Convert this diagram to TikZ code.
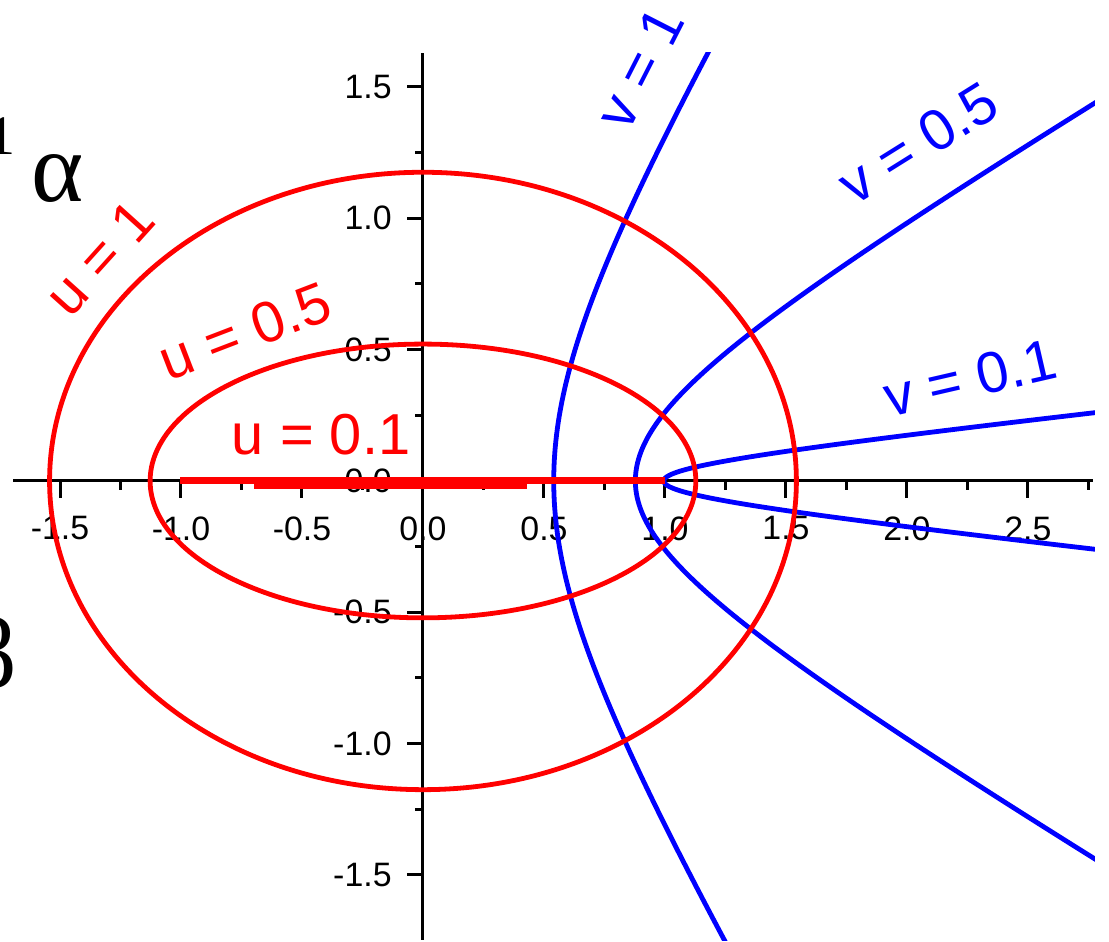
\documentclass[tikz,border=0pt]{standalone}
\usepackage{fontspec}
\setmainfont{Liberation Sans}
\newfontfamily\greekfont{Liberation Serif}
\usetikzlibrary{positioning}
\definecolor{curvered}{RGB}{255,0,0}
\definecolor{curveblue}{RGB}{0,0,255}

\begin{document}
\begin{tikzpicture}[
  x=121bp,y=131.35bp,
  axis/.style={line width=1.5bp,draw=black},
  tickmark/.style={line width=1.5bp,draw=black},
  ticklabel/.style={font=\fontsize{17}{17}\selectfont,inner sep=0pt},
  ucurve/.style={line width=2.4bp,draw=curvered},
  vcurve/.style={line width=2.4bp,draw=curveblue,samples=160,domain=-2.2:2.2,variable=\s},
  ulabel/.style={font=\fontsize{29}{29}\selectfont,text=curvered,inner sep=0pt},
  vlabel/.style={font=\fontsize{29}{29}\selectfont,text=curveblue,inner sep=0pt},
  greek/.style={font=\greekfont\fontsize{50}{50}\selectfont,inner sep=0pt}
]
\useasboundingbox (-1.748,-1.755) rectangle (2.835,1.831);

% -------------------------------------------------------------------------
% Axes, ticks and tick labels
% -------------------------------------------------------------------------
\coordinate (xmin) at (-1.694,0);
\coordinate (xmax) at (2.769,0);
\coordinate (ymin) at (0,-1.747);
\coordinate (ymax) at (0,1.629);
\draw[axis] (xmin) -- (xmax);
\draw[axis] (ymin) -- (ymax);

\foreach \v in {-1.5,-1,-0.5,0.5,1,1.5,2,2.5}
  {\draw[tickmark] (\v,0) -- ++(0,-8.5bp);}
\foreach \v in {-1.25,-0.75,-0.25,0.25,0.75,1.25,1.75,2.25,2.75}
  {\draw[tickmark] (\v,0) -- ++(0,-4.5bp);}
\foreach \v in {-1.5,-1,-0.5,0.5,1,1.5}
  {\draw[tickmark] (0,\v) -- ++(-8bp,0);}
\foreach \v in {-1.25,-0.75,-0.25,0.25,0.75,1.25}
  {\draw[tickmark] (0,\v) -- ++(-4bp,0);}

\foreach \v/\t [count=\k] in {-1.5/-1.5,-1/-1.0,-0.5/-0.5,0/0.0,0.5/0.5,1/1.0,1.5/1.5,2/2.0,2.5/2.5}
  {\node[ticklabel,anchor=north,yshift=-17.5bp] (xlab\k) at (\v,0) {\t};}
\foreach \v/\t [count=\k] in {-1.5/-1.5,-1/-1.0,-0.5/-0.5,0/0.0,0.5/0.5,1/1.0,1.5/1.5}
  {\node[ticklabel,anchor=east,xshift=-15.5bp] (ylab\k) at (0,\v) {\t};}

% -------------------------------------------------------------------------
% Coordinate curves
% -------------------------------------------------------------------------
\begin{scope}
\clip (-1.7,-1.75) rectangle (2.777,1.633);
\foreach \c/\sn in {0.5403/0.8415,0.8776/0.4794,0.9950/0.0998}
  {\draw[vcurve] plot ({cosh(\s)*\c},{sinh(\s)*\sn});}
\draw[ucurve] (0,0) ellipse [x radius=1.5431,y radius=1.1752];
\draw[ucurve] (0,0) ellipse [x radius=1.1276,y radius=0.5211];
\draw[ucurve,line width=3.5bp] (-1.004,0) -- (1,0);
\draw[ucurve,line width=5.5bp] (-0.70,-0.010) -- (0.43,-0.010);
\end{scope}

% -------------------------------------------------------------------------
% Curve labels
% -------------------------------------------------------------------------
\node[ulabel,rotate=48] (u1) at (-1.335,0.849) {u = 1};
\node[ulabel,rotate=21] (u05) at (-0.736,0.571) {u = 0.5};
\node[ulabel] (u01) at (-0.421,0.175) {u = 0.1};
\node[vlabel,rotate=63] (v1) at (0.897,1.572) {v = 1};
\node[vlabel,rotate=32] (v05) at (2.045,1.287) {v = 0.5};
\node[vlabel,rotate=13] (v01) at (2.260,0.392) {v = 0.1};

% left margin letters
\node[greek,font=\greekfont\fontsize{28}{28}\selectfont,anchor=base east] (one) at (-1.684,1.241) {1};
\node[greek,anchor=base] (alpha) at (-1.508,1.062) {α};
\node[greek,anchor=base east] (beta) at (-1.674,-0.788) {β};
\end{tikzpicture}
\end{document}
